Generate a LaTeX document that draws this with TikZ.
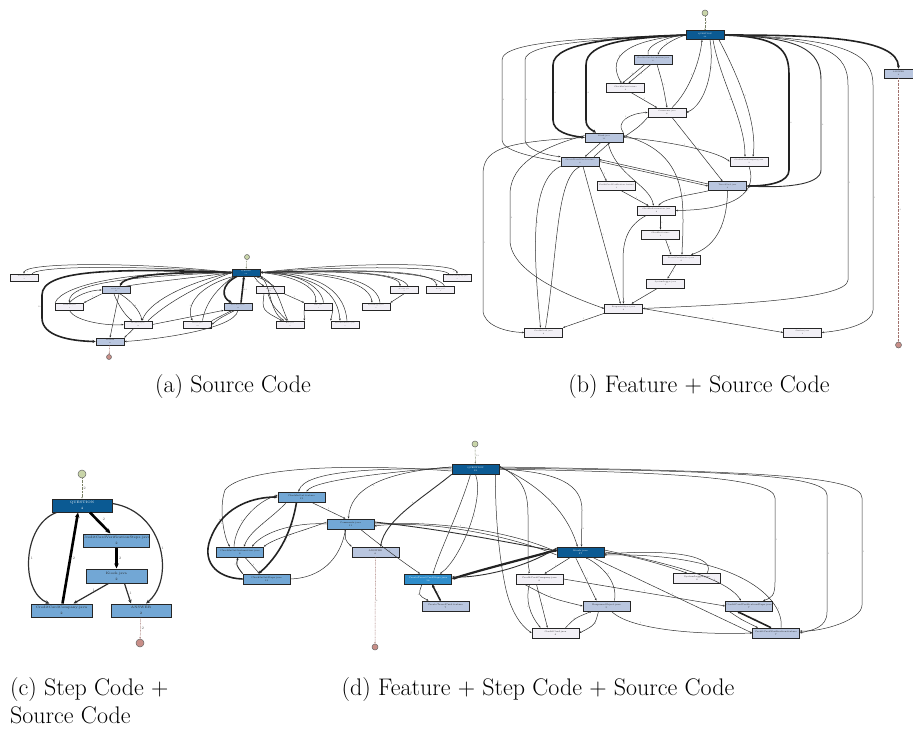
\documentclass[tikz,border=0pt]{standalone}
\usetikzlibrary{arrows.meta}
\definecolor{qblue}{HTML}{0B5A93}
\definecolor{mblue}{HTML}{72A7D5}
\definecolor{lblue}{HTML}{B9C6DF}
\definecolor{wfill}{HTML}{F2F0F6}
\definecolor{bblue}{HTML}{2E8DCB}
\definecolor{sgreen}{HTML}{C9D5A9}
\definecolor{ered}{HTML}{C88E88}
\definecolor{edgec}{HTML}{303030}
\begin{document}
\begin{tikzpicture}[x=1pt,y=-1pt,
  nd/.style={draw=black!85, line width=0.7pt, rectangle, inner sep=0pt, align=center, text=black!85},
  qn/.style={nd, fill=qblue, text=white},
  mn/.style={nd, fill=mblue},
  ln/.style={nd, fill=lblue},
  wn/.style={nd, fill=wfill},
  bn/.style={nd, fill=bblue, text=white},
  sza/.style={minimum width=28pt, minimum height=7pt, font=\fontsize{1.4}{2.2}\selectfont},
  szb/.style={minimum width=38pt, minimum height=9pt, font=\fontsize{1.9}{2.8}\selectfont},
  szd/.style={minimum width=47pt, minimum height=10pt, font=\fontsize{2.3}{3.2}\selectfont},
  szc/.style={minimum width=60pt, minimum height=13pt, line width=1pt, font=\fontsize{3.4}{6}\selectfont},
  stn/.style={circle, draw=black!60, fill=sgreen, line width=0.5pt, inner sep=0pt, minimum size=#1},
  enn/.style={circle, draw=black!60, fill=ered, line width=0.5pt, inner sep=0pt, minimum size=#1},
  e/.style={draw=edgec, line width=0.5pt, -{Stealth[length=2.2pt,width=1.8pt]}},
  e2/.style={draw=edgec, line width=0.9pt, -{Stealth[length=2.6pt,width=2.2pt]}},
  e3/.style={draw=edgec!70!black, line width=1.6pt, -{Stealth[length=3.2pt,width=3pt]}},
  ec/.style={draw=edgec, line width=1.2pt, -{Stealth[length=4pt,width=3.5pt]}},
  ec3/.style={draw=black, line width=2.6pt, -{Stealth[length=5pt,width=4.5pt]}},
  sl/.style={draw=sgreen!60!black, line width=0.5pt, dash pattern=on 0.7pt off 0.7pt, -{Stealth[length=1.6pt,width=1.4pt]}},
  enl/.style={draw=ered!80!black, line width=0.5pt, dash pattern=on 0.7pt off 0.7pt, -{Stealth[length=1.6pt,width=1.4pt]}},
  lbl/.style={font=\fontsize{2}{2.4}\selectfont, text=black!60, inner sep=0.6pt},
  lblc/.style={font=\fontsize{3.6}{4}\selectfont, text=black!60, inner sep=1pt},
  captxt/.style={font=\fontsize{24}{29}\selectfont, inner sep=0pt, anchor=base}
]
\useasboundingbox (0,0) rectangle (913,731);

%%%%%%%%%%%%%%%% (a) %%%%%%%%%%%%%%%%
\node[qn,sza] (qa) at (246,272.5) {QUESTION\\104};
\node[wn,sza] (a1) at (24,277.5) {Passenger.java\\4};
\node[ln,sza] (a2) at (116,290) {Kiosk.java\\26};
\node[wn,sza] (a3) at (69.5,306.5) {Comments.java\\8};
\node[wn,sza] (a4) at (138,324.5) {CreditCard.java\\14};
\node[wn,sza] (a5) at (197.5,324.5) {Station.java\\12};
\node[ln,sza] (a6) at (238,306.5) {TravelCard.java\\30};
\node[wn,sza] (a7) at (270,290) {Trip.java\\10};
\node[wn,sza] (a8) at (318.5,306.5) {Fare.java\\9};
\node[wn,sza] (a9) at (290,324.5) {Zone.java\\6};
\node[wn,sza] (a10) at (345,324.5) {TravelCardService.java\\7};
\node[wn,sza] (a11) at (376,306.5) {SystemLogger.java\\6};
\node[wn,sza] (a12) at (404,290) {Account.java\\3};
\node[wn,sza] (a13) at (440.5,290) {Route.java\\4};
\node[wn,sza] (a14) at (457,277.5) {CreditCardCompany.java\\3};
\node[ln,sza] (aans) at (110,341.5) {ANSWER\\21};
\node[stn=5pt] (sa) at (247,257) {};
\node[enn=5pt] (ea) at (109,357) {};
\draw[sl] (sa) -- (qa);
\draw[enl] (aans) -- (ea);
\draw[e] (qa.west) .. controls (140,262) and (24,262) .. (a1.north) node[lbl,pos=0.93,right]{1};
\draw[e] ([xshift=8]a1.north) .. controls (40,265) and (150,266) .. (qa.west);
\draw[e] (qa.east) .. controls (350,262) and (457,262) .. (a14.north) node[lbl,pos=0.93,left]{1};
\draw[e] ([xshift=-8]a14.north) .. controls (440,266) and (340,266) .. (qa.east);
\draw[e3] (qa.west) .. controls (180,272) and (125,274) .. ([xshift=4]a2.north) node[lbl,pos=0.5,above]{17};
\draw[e] ([xshift=10]a2.north) .. controls (150,282) and (200,277) .. (qa.west);
\draw[e3] ([xshift=-9]qa.south) .. controls (220,285) and (222,298) .. ([xshift=-6]a6.north);
\draw[e3] ([xshift=3]a6.north) -- node[lbl,right]{24} ([xshift=-2]qa.south);
\draw[e3] (qa.west) .. controls (110,268) and (42,270) .. (42,295) -- node[lbl,left]{10} (42,318) .. controls (42,336) and (70,341) .. (aans.west);
\draw[e] (qa.west) .. controls (140,276) and (68,282) .. (a3.north) node[lbl,pos=0.8,right]{1};
\draw[e] (a3.north west) .. controls (62,285) and (130,270) .. (qa.west);
\draw[e] (qa.west) .. controls (190,282) and (150,300) .. ([xshift=4]a4.north) node[lbl,pos=0.7,right]{2};
\draw[e] ([xshift=10]a4.north) .. controls (170,300) and (205,283) .. (qa.west);
\draw[e] ([xshift=-12]qa.south) .. controls (200,285) and (185,305) .. ([xshift=-5]a5.north) node[lbl,pos=0.7,left]{3};
\draw[e] ([xshift=5]a5.north) .. controls (205,305) and (215,290) .. ([xshift=-12]qa.south);
\draw[e] ([xshift=8]qa.south) .. controls (258,282) .. ([xshift=-6]a7.north) node[lbl,pos=0.5,left]{2};
\draw[e] ([xshift=4]a7.north) .. controls (265,280) .. ([xshift=10]qa.south);
\draw[e] (qa.east) .. controls (300,276) and (318,290) .. ([xshift=-3]a8.north) node[lbl,pos=0.6,above]{1};
\draw[e] ([xshift=5]a8.north) .. controls (322,288) and (300,272) .. (qa.east);
\draw[e] (qa.south east) .. controls (272,285) and (268,310) .. ([xshift=-6]a9.north);
\draw[e] ([xshift=-2]a9.north) .. controls (280,305) and (278,285) .. (qa.south east);
\draw[e] (qa.east) .. controls (320,275) and (338,295) .. ([xshift=-5]a10.north) node[lbl,pos=0.6,right]{2};
\draw[e] ([xshift=2]a10.north) .. controls (345,295) and (325,272) .. (qa.east);
\draw[e] (qa.east) .. controls (340,272) and (370,285) .. ([xshift=-4]a11.north) node[lbl,pos=0.6,above]{2};
\draw[e] ([xshift=4]a11.north) .. controls (378,285) and (350,270) .. (qa.east);
\draw[e] (qa.east) .. controls (360,270) and (400,275) .. ([xshift=-4]a12.north) node[lbl,pos=0.7,above]{1};
\draw[e] ([xshift=4]a12.north) .. controls (405,277) and (370,268) .. (qa.east);
\draw[e] (qa.east) .. controls (380,268) and (436,272) .. ([xshift=-4]a13.north) node[lbl,pos=0.7,above]{1};
\draw[e] ([xshift=4]a13.north) .. controls (440,274) and (380,268) .. (qa.east);
\draw[e] (a2.south west) -- node[lbl,above]{1} (a3.north east);
\draw[e] (a3.north) .. controls (75,296) and (90,290) .. (a2.west);
\draw[e] ([xshift=-2]a2.south) .. controls (118,305) and (125,315) .. ([xshift=-6]a4.north);
\draw[e] ([xshift=4]a2.south) .. controls (130,300) and (140,310) .. ([xshift=4]a4.north) node[lbl,pos=0.5,right]{4};
\draw[e] (a3.south) .. controls (75,322) and (110,326) .. (a4.west);
\draw[e] ([xshift=3]a2.south) -- (aans.north);
\draw[e] ([xshift=-4]a4.south) -- node[lbl,right]{3} (aans.north east);
\draw[e] (a4.east) -- (a6.south west);
\draw[e] (a6.south) .. controls (235,330) and (150,340) .. (aans.east);
\draw[e] (a5.north east) -- ([xshift=-6]a6.south);
\draw[e] ([xshift=-3]a6.south) .. controls (220,318) .. (a5.east);
\draw[e] (a7.south east) -- node[lbl,above]{1} (a8.north west);
\draw[e] ([xshift=-6]a7.south) .. controls (262,310) .. ([xshift=-8]a9.north);
\draw[e] ([xshift=-2]a7.south) .. controls (272,305) .. ([xshift=-3]a9.north);
\draw[e] (a8.south west) -- (a9.north east);
\draw[e] (a8.south east) -- (a10.north west);
\draw[e] (a12.south) -- node[lbl,right]{1} (a11.north east);

%%%%%%%%%%%%%%%% (b) %%%%%%%%%%%%%%%%
\node[qn,szb] (qb) at (705,35) {QUESTION\\28};
\node[ln,szb,minimum width=29pt] (bans) at (898.5,73.5) {ANSWER\\4};
\node[ln,szb] (bA) at (653,59.5) {CheckInOutAutomation.java\\8};
\node[wn,szb] (bB) at (625.5,88) {CheckInOut.feature\\4};
\node[wn,szb] (bC) at (667,112.5) {Comments.java\\6};
\node[ln,szb] (bD) at (604,137.5) {Kiosk.java\\13};
\node[ln,szb] (bE) at (580,161.5) {CreateTravelCard.feature\\8};
\node[wn,szb] (bF) at (749,161.5) {CreditCardCompany.java\\3};
\node[wn,szb] (bG) at (616.5,186) {CreditCardVerification.feature\\3};
\node[ln,szb] (bH) at (727.5,186) {TravelCard.java\\8};
\node[wn,szb] (bI) at (656.5,210.5) {CheckInAutomation.java\\4};
\node[wn,szb] (bJ) at (660.5,234.5) {CheckIn.feature\\3};
\node[wn,szb] (bK) at (681,259.5) {TravelCardService.java\\4};
\node[wn,szb] (bL) at (665.5,283.5) {SystemLogger.java\\3};
\node[wn,szb] (bM) at (623.5,308.5) {ResponseObject.java\\6};
\node[wn,szb] (bN) at (543.5,332.5) {CreditCard.java\\4};
\node[wn,szb] (bO) at (802.5,332.5) {Station.java\\3};
\node[stn=6pt] (sb) at (705,13) {};
\node[enn=6pt] (eb) at (898.5,345) {};
\draw[sl] (sb) -- node[lbl,right]{7} (qb);
\draw[enl] (bans) -- node[lbl,right]{4} (eb);
\draw[e3] (qb.east) .. controls (820,35) and (898,38) .. (bans.north) node[lbl,pos=0.85,left]{8};
\draw[e3] (qb.east) .. controls (780,37) and (789,50) .. (789,75) -- node[lbl,right]{8} (789,170) .. controls (789,182) and (770,186) .. (bH.east);
\draw[e2] (qb.east) .. controls (800,37) and (821,50) .. (821,80) -- node[lbl,right]{4} (821,170) .. controls (821,186) and (780,188) .. (bH.east);
\draw[e] (qb.east) .. controls (830,38) and (848,55) .. (848,85) -- node[lbl,right]{1} (848,280) .. controls (848,300) and (720,305) .. (bM.east);
\draw[e] (qb.east) .. controls (850,38) and (873,55) .. (873,85) -- node[lbl,right]{1} (873,310) .. controls (873,322) and (850,330) .. (bO.east);
\draw[e] (qb.west) .. controls (600,38) and (502,40) .. (502,60) -- node[lbl,right]{3} (502,140) .. controls (502,150) and (530,157) .. (bE.west);
\draw[e] (qb.west) .. controls (610,39) and (525,42) .. (525,60) -- node[lbl,right]{3} (525,140) .. controls (525,150) and (550,156) .. (bE.north west);
\draw[e3] (qb.west) .. controls (620,37) and (553,42) .. (553,65) -- node[lbl,right]{4} (553,120) .. controls (553,132) and (570,136) .. (bD.west);
\draw[e3] (qb.west) .. controls (630,38) and (586,42) .. (586,65) -- node[lbl,right]{4} (586,120) .. controls (586,128) and (592,130) .. ([xshift=-8]bD.north);
\draw[e] (bD.west) .. controls (500,142) and (483,150) .. (483,175) -- node[lbl,right]{1} (483,310) .. controls (483,325) and (505,332) .. (bN.west);
\draw[e] ([yshift=2]bD.west) .. controls (530,150) and (510,170) .. (510,195) -- node[lbl,right]{2} (510,240) .. controls (510,275) and (580,300) .. (bM.west);
\draw[e] (bE.south west) .. controls (530,180) and (533,250) .. ([xshift=-3]bN.north) node[lbl,pos=0.5,right]{1};
\draw[e] ([xshift=2]bN.north) .. controls (558,250) and (556,180) .. (bE.south);
\draw[e] ([xshift=3]bE.south) -- node[lbl,right]{1} ([xshift=-3]bM.north);
\draw[e] ([xshift=-3]bD.south) -- ([xshift=5]bE.north);
\draw[e] ([xshift=14]bE.north) -- ([xshift=6]bD.south);
\draw[e] (bD.north east) .. controls (615,122) and (630,113) .. (bC.west) node[lbl,pos=0.5,above]{1};
\draw[e] (bC.south west) .. controls (640,126) .. (bD.east);
\draw[e] (qb.west) .. controls (670,40) and (660,48) .. ([xshift=5]bA.north) node[lbl,pos=0.5,above]{1};
\draw[e] ([xshift=-5]bA.north) .. controls (645,45) and (670,36) .. (qb.west);
\draw[e] (qb.west) .. controls (630,40) and (605,55) .. ([xshift=-4]bB.north) node[lbl,pos=0.6,left]{2};
\draw[e] ([xshift=-8]bA.south) -- node[lbl,left]{2} ([xshift=-3]bB.north);
\draw[e] ([xshift=-2]bA.south) -- node[lbl,right]{3} ([xshift=3]bB.north);
\draw[e] ([xshift=6]bB.south) -- node[lbl,above]{2} ([xshift=-10]bC.north);
\draw[e] ([xshift=4]bA.south) .. controls (663,85) .. (bC.north) node[lbl,pos=0.5,right]{1};
\draw[e] ([xshift=5]bC.north) .. controls (690,90) and (700,60) .. ([xshift=-3]qb.south) node[lbl,pos=0.5,left]{2};
\draw[e] ([xshift=5]qb.south) .. controls (715,70) and (705,105) .. (bC.east) node[lbl,pos=0.3,right]{1};
\draw[e] ([xshift=8]qb.south) .. controls (720,80) and (745,120) .. ([xshift=-4]bF.north) node[lbl,pos=0.5,left]{2};
\draw[e] ([xshift=14]qb.south) .. controls (735,70) and (758,120) .. ([xshift=4]bF.north) node[lbl,pos=0.5,right]{2};
\draw[e] (bD.east) .. controls (660,140) and (715,150) .. (bF.west) node[lbl,pos=0.5,above]{1};
\draw[e] ([xshift=5]bC.south) -- node[lbl,right]{1} ([xshift=-5]bH.north);
\draw[e] ([yshift=2]bD.east) .. controls (680,150) and (683,190) .. (683,220) .. controls (683,240) and (682,248) .. ([xshift=1]bK.north);
\draw[e] ([xshift=4]bD.south) .. controls (615,175) and (650,185) .. ([xshift=-3]bI.north);
\draw[e] (bE.east) -- node[lbl,above]{1} (bH.west);
\draw[e] ([yshift=2]bH.west) -- node[lbl,below]{2} ([yshift=2]bE.east);
\draw[e] (bE.south east) -- node[lbl,right]{1} ([xshift=-10]bG.north);
\draw[e] ([xshift=5]bG.south) -- node[lbl,right]{1} ([xshift=-8]bI.north);
\draw[e] (bH.south west) .. controls (690,195) and (665,198) .. ([xshift=2]bI.north) node[lbl,pos=0.4,above]{1};
\draw[e] (bF.south) .. controls (760,200) and (720,210) .. (bI.east) node[lbl,pos=0.3,right]{1};
\draw[e] ([xshift=4]bI.south) -- node[lbl,right]{1} (bJ.north);
\draw[e] ([xshift=-10]bI.south) .. controls (628,225) and (623,240) .. (623,260) .. controls (623,280) and (623,295) .. (bM.north);
\draw[e] ([xshift=5]bJ.south) -- node[lbl,right]{1} ([xshift=-10]bK.north);
\draw[e] (bH.south) .. controls (727,230) and (712,248) .. ([xshift=10]bK.north) node[lbl,pos=0.4,right]{1};
\draw[e] ([xshift=-5]bK.south) -- node[lbl,right]{1} ([xshift=2]bL.north);
\draw[e] ([xshift=-8]bL.south) -- node[lbl,right]{1} ([xshift=8]bM.north);
\draw[e] (bM.south west) -- node[lbl,above]{1} (bN.north east);
\draw[e] (bM.east) -- node[lbl,above]{1} (bO.west);

%%%%%%%%%%%%%%%% (c) %%%%%%%%%%%%%%%%
\node[qn,szc] (qc) at (82,505.5) {QUESTION\\4};
\node[mn,szc,minimum width=61pt] (cvs) at (116.5,540.5) {CreditCardVerificationSteps.java\\2};
\node[mn,szc,minimum width=61pt,minimum height=14pt] (ck) at (116.5,576) {Kiosk.java\\2};
\node[mn,szc,minimum width=61pt] (ccc) at (61.5,610.5) {CreditCardCompany.java\\2};
\node[mn,szc] (cans) at (141,610.5) {ANSWER\\2};
\node[stn=8pt] (sc) at (82,474) {};
\node[enn=8pt] (ecn) at (140,643) {};
\draw[sl] (sc) -- node[lblc,right]{2} (qc);
\draw[enl] (cans) -- node[lblc,right]{2} (ecn);
\draw[ec3] ([xshift=8]qc.south) -- node[lblc,above right]{2} ([xshift=-6]cvs.north);
\draw[ec3] (cvs.south) -- node[lblc,right]{2} (ck.north);
\draw[ec] ([xshift=-8]ck.south) -- node[lblc,above right]{1} ([xshift=12]ccc.north);
\draw[ec] ([xshift=8]ck.south) -- node[lblc,right]{1} ([xshift=-10]cans.north);
\draw[ec3] ([xshift=1]ccc.north) -- node[lblc,right]{2} ([xshift=-4]qc.south);
\draw[ec] ([xshift=5]qc.south west) .. controls (22,525) and (20,592) .. ([xshift=-12]ccc.north) node[lblc,pos=0.5,right]{1};
\draw[ec] ([yshift=2]qc.east) .. controls (165,512) and (175,580) .. ([xshift=5]cans.north) node[lblc,pos=0.5,right]{1};

%%%%%%%%%%%%%%%% (d) %%%%%%%%%%%%%%%%
\node[qn,szd] (qd) at (475.5,469) {QUESTION\\19};
\node[mn,szd] (dCF) at (301.5,497) {CheckInOut.feature\\12};
\node[mn,szd] (dCm) at (350.5,524) {Comments.java\\11};
\node[mn,szd] (dCA) at (240,552) {CheckInOutAutomation.java\\8};
\node[ln,szd] (dAns) at (375.5,552) {ANSWER\\6};
\node[mn,szd] (dCS) at (266.5,579) {CheckInOutSteps.java\\13};
\node[bn,szd] (dTS) at (428,579) {CreateTravelCardSteps.java\\16};
\node[ln,szd] (dTF) at (445.5,606) {CreateTravelCard.feature\\7};
\node[qn,szd] (dK) at (580.5,552) {Kiosk.java\\27};
\node[wn,szd] (dCC) at (539.5,579) {CreditCardCompany.java\\6};
\node[ln,szd] (dRO) at (606.5,606) {ResponseObject.java\\5};
\node[wn,szd] (dCr) at (555.5,633) {CreditCard.java\\4};
\node[wn,szd] (dSL) at (697,578.5) {SystemLogger.java\\4};
\node[ln,szd] (dVS) at (749,606) {CreditCardVerificationSteps.java\\7};
\node[ln,szd] (dVF) at (776,633) {CreditCardVerification.feature\\7};
\node[stn=6pt] (sd) at (475,444) {};
\node[enn=6pt] (ed) at (375,647) {};
\draw[sl] (sd) -- node[lbl,right]{13} (qd);
\draw[enl] (dAns) -- node[lbl,right]{6} (ed);
\draw[e] (qd.west) .. controls (380,468) and (305,470) .. ([xshift=-3]dCF.north) node[lbl,pos=0.8,left]{4};
\draw[e] ([yshift=2]qd.west) .. controls (390,472) and (315,480) .. ([xshift=5]dCF.north) node[lbl,pos=0.7,right]{1};
\draw[e] ([yshift=-2]qd.west) .. controls (330,462) and (240,470) .. (225,490) .. controls (218,510) and (225,540) .. ([xshift=-10]dCA.north) node[lbl,pos=0.5,left]{1};
\draw[e3] (dCS.west) .. controls (215,578) and (200,560) .. (212,535) .. controls (225,505) and (255,497) .. (dCF.west) node[lbl,pos=0.2,left]{8};
\draw[e3] ([xshift=-5]dCF.south) .. controls (292,530) and (280,555) .. ([xshift=-8]dCS.north) node[lbl,pos=0.5,right]{7};
\draw[e] ([xshift=-6]dCA.north) .. controls (235,525) and (255,502) .. ([yshift=2]dCF.west) node[lbl,pos=0.4,left]{6};
\draw[e] ([xshift=-15]dCF.south) .. controls (270,520) and (250,530) .. ([xshift=4]dCA.north) node[lbl,pos=0.5,right]{1};
\draw[e2] (dCS.north west) .. controls (236,565) .. ([xshift=-2]dCA.south) node[lbl,pos=0.5,left]{5};
\draw[e] ([xshift=5]dCA.south) .. controls (252,565) .. ([xshift=-7]dCS.north) node[lbl,pos=0.5,right]{4};
\draw[e] ([xshift=10]dCF.south) -- node[lbl,above]{1} ([xshift=-5]dCm.north);
\draw[e] (dCm.west) .. controls (300,522) and (265,530) .. ([xshift=12]dCA.north) node[lbl,pos=0.4,above]{2};
\draw[e] ([yshift=2]dCm.west) .. controls (300,532) and (275,538) .. (dCA.north east) node[lbl,pos=0.5,below]{1};
\draw[e] (dCS.east) .. controls (320,578) and (340,560) .. ([xshift=-5]dCm.south) node[lbl,pos=0.5,right]{1};
\draw[e] (dCm.east) .. controls (450,520) and (520,535) .. (dK.west) node[lbl,pos=0.4,above]{3};
\draw[e2] ([yshift=2]dCm.east) .. controls (450,530) and (520,545) .. ([yshift=1]dK.west) node[lbl,pos=0.6,above]{6};
\draw[e] ([yshift=-3]dK.west) .. controls (500,532) and (420,520) .. ([yshift=-2]dCm.east) node[lbl,pos=0.7,above]{1};
\draw[e3,line width=2.2pt] ([yshift=2]dK.west) .. controls (520,560) and (480,570) .. (dTS.east) node[lbl,pos=0.5,below]{10};
\draw[e2] ([yshift=4]dK.west) .. controls (525,568) and (480,578) .. ([yshift=2]dTS.east);
\draw[e] ([xshift=-6]dTS.south) .. controls (418,595) .. ([xshift=-17]dTF.north) node[lbl,pos=0.5,left]{4};
\draw[e3] ([xshift=-5]dTF.north) -- node[lbl,right]{7} ([xshift=4]dTS.south);
\draw[e2] (qd.south west) .. controls (420,500) and (385,520) .. ([xshift=5]dAns.north) node[lbl,pos=0.4,left]{6};
\draw[e] ([yshift=2]qd.west) .. controls (380,472) and (350,490) .. ([xshift=-2]dCm.north) node[lbl,pos=0.5,below]{4};
\draw[e] ([xshift=-5]dCm.south) .. controls (345,540) .. (dAns.north west) node[lbl,pos=0.5,left]{1};
\draw[e] ([xshift=-5]qd.south) .. controls (460,510) and (440,550) .. ([xshift=5]dTS.north) node[lbl,pos=0.5,left]{2};
\draw[e] (qd.south) .. controls (485,500) and (460,560) .. ([xshift=12]dTS.north) node[lbl,pos=0.4,right]{1};
\draw[e] ([xshift=10]dCm.south) .. controls (380,545) and (400,560) .. ([xshift=-8]dTS.north) node[lbl,pos=0.5,above]{1};
\draw[e] (qd.east) .. controls (560,472) and (582,485) .. (582,510) -- node[lbl,right]{4} ([xshift=1]dK.north);
\draw[e] ([yshift=2]qd.east) .. controls (530,480) and (565,505) .. ([xshift=-3]dK.north) node[lbl,pos=0.6,left]{1};
\draw[e] ([yshift=3]qd.east) .. controls (522,478) and (528,490) .. (528,515) -- (528,560) .. controls (528,568) and (530,570) .. ([xshift=-11]dCC.north);
\draw[e] ([xshift=20]qd.south) .. controls (495,520) and (500,560) .. (505,585) .. controls (510,610) and (520,625) .. (dCr.west);
\draw[e] ([xshift=-10]dCC.south) .. controls (525,600) and (530,615) .. ([xshift=-15]dCr.north) node[lbl,pos=0.5,left]{2};
\draw[e] ([xshift=-3]dCC.south) -- node[lbl,right]{1} ([xshift=-8]dCr.north);
\draw[e] ([xshift=-10]dK.south) -- node[lbl,left]{1} ([xshift=5]dCC.north);
\draw[e] (dK.east) .. controls (630,555) and (665,565) .. ([xshift=-10]dSL.north) node[lbl,pos=0.6,above]{2};
\draw[e] ([xshift=10]dSL.north) .. controls (715,560) and (690,548) .. ([yshift=-2]dK.east) node[lbl,pos=0.2,right]{1};
\draw[e] ([yshift=2]dK.east) .. controls (650,560) and (725,575) .. ([xshift=-8]dVS.north) node[lbl,pos=0.7,right]{3};
\draw[e] ([xshift=5]dVF.north) .. controls (785,600) and (740,552) .. ([yshift=-3]dK.east) node[lbl,pos=0.2,right]{1};
\draw[e] ([xshift=12]dK.south) -- node[lbl,above]{1} (dVF.west);
\draw[e] ([xshift=-5]dK.south) -- node[lbl,right]{1} ([xshift=-10]dRO.north);
\draw[e] ([xshift=8]dRO.north) .. controls (618,580) and (600,565) .. ([xshift=5]dK.south) node[lbl,pos=0.5,right]{2};
\draw[e] ([xshift=-15]dCC.south) .. controls (550,598) .. (dRO.west) node[lbl,pos=0.5,above]{1};
\draw[e] (dCC.east) -- node[lbl,above]{1} (dVS.west);
\draw[e] ([xshift=10]dCr.north) .. controls (575,618) .. ([xshift=-15]dRO.south) node[lbl,pos=0.5,left]{2};
\draw[e] ([xshift=-8]dRO.south) .. controls (595,625) .. (dCr.east) node[lbl,pos=0.5,right]{2};
\draw[e] ([xshift=5]dRO.south) .. controls (630,630) and (700,635) .. (dVF.west) node[lbl,pos=0.3,above]{1};
\draw[e] ([xshift=-20]dVS.south) .. controls (742,620) .. ([xshift=-18]dVF.north) node[lbl,pos=0.5,left]{3};
\draw[e3] ([xshift=-5]dVF.north) -- node[lbl,right]{5} ([xshift=-12]dVS.south);
\draw[e] (qd.east) .. controls (650,472) and (775,476) .. (775,498) -- node[lbl,right]{1} (775,582) .. controls (775,595) and (772,598) .. ([xshift=14]dVS.north);
\draw[e] ([yshift=1]qd.east) .. controls (720,471) and (827,474) .. (827,495) -- node[lbl,right]{1} (827,612) .. controls (827,628) and (812,630) .. (dVF.east);
\draw[e] ([yshift=2]qd.east) .. controls (760,471) and (862,476) .. (862,498) -- node[lbl,right]{1} (862,605) .. controls (862,620) and (822,632) .. ([yshift=2]dVF.east);

%%%%%%%%%%%%%%%% captions %%%%%%%%%%%%%%%%
\node[captxt] (capa) at (233,392) {(a) Source Code};
\node[captxt] (capb) at (699,392) {(b) Feature + Source Code};
\node[captxt, anchor=base west] (capc1) at (10,695) {(c) Step Code +};
\node[captxt, anchor=base west] (capc2) at (10,723) {Source Code};
\node[captxt] (capd) at (538,695) {(d) Feature + Step Code + Source Code};
\end{tikzpicture}
\end{document}
